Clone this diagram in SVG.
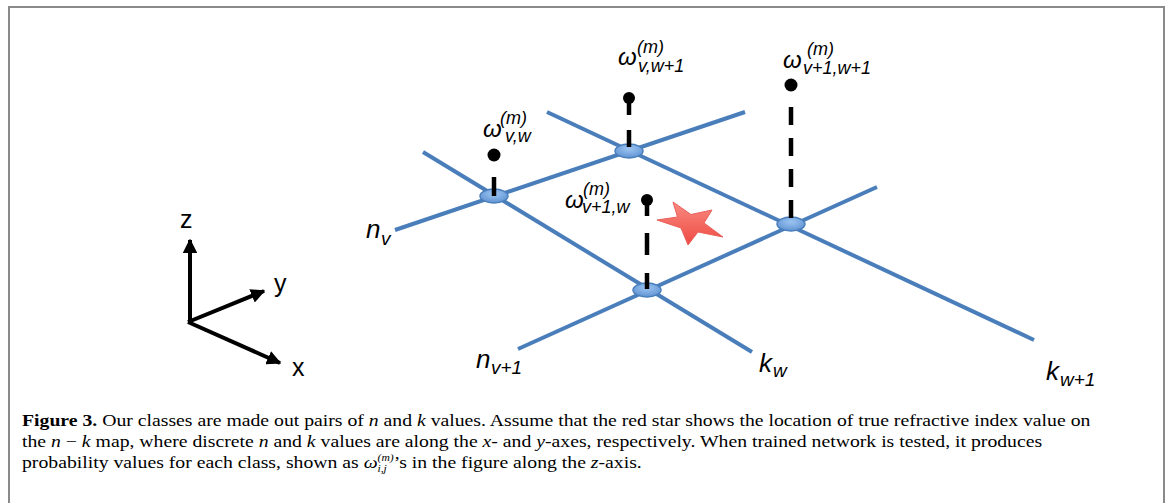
<svg xmlns="http://www.w3.org/2000/svg" width="1171" height="503" viewBox="0 0 1171 503">
<defs>
<radialGradient id="nodeGrad" cx="0.5" cy="0.35" r="0.7">
<stop offset="0" stop-color="#9cc4f2"/>
<stop offset="1" stop-color="#5b8fd0"/>
</radialGradient>
<linearGradient id="starGrad" x1="0" y1="0" x2="0" y2="1">
<stop offset="0" stop-color="#f98a80"/>
<stop offset="1" stop-color="#ee4a42"/>
</linearGradient>
<marker id="axArrow" viewBox="0 0 10 10" refX="9" refY="5" markerWidth="3.6" markerHeight="3.6" orient="auto" markerUnits="strokeWidth">
<path d="M0,0 L10,5 L0,10 z" fill="#000"/>
</marker>
</defs>
<style>
.frame{fill:none;stroke:#8a8a8a;stroke-width:2}
.grid{stroke:#4a7ebb;stroke-width:4;stroke-linecap:butt;fill:none}
.node{fill:url(#nodeGrad);stroke:#4a7ebb;stroke-width:1.5}
.stem{stroke:#000;stroke-width:4.5;fill:none}
.dot{fill:#000}
.axis{stroke:#000;stroke-width:4;fill:none}
.lab{font-family:"Liberation Sans",Arial,sans-serif;font-style:italic;fill:#000}
.om{font-size:24px}
.scr{font-size:18px}
.nk{font-size:26px}
.nks{font-size:19px}
.axl{font-family:"Liberation Sans",Arial,sans-serif;font-size:25px;fill:#000}
.cap{font-family:"Liberation Serif","Times New Roman",serif;font-size:17px;fill:#000}
.it{font-style:italic}
.bf{font-weight:bold}
</style>

<path class="frame" d="M9,504 V7 H1164 V504"/>

<g id="connectors">
<line class="grid" x1="395" y1="230" x2="745" y2="112"/>
<line class="grid" x1="518" y1="349" x2="877" y2="187"/>
<line class="grid" x1="423" y1="152" x2="752" y2="352"/>
<line class="grid" x1="547" y1="112" x2="1034" y2="340"/>
</g>

<g id="star">
<polygon points="657,220 677.5,217 673,202 691,214.5 712,210 704,223 723,237 698,232 688,245 681,228" fill="url(#starGrad)" stroke="#e8605a" stroke-width="1"/>
</g>

<g id="node-v-w">
<ellipse class="node" cx="494" cy="196" rx="14" ry="7"/>
<line class="stem" x1="494" y1="177" x2="494" y2="196"/>
<circle class="dot" cx="494" cy="155" r="6.5"/>
<text class="lab" x="483" y="137"><tspan class="om">ω</tspan><tspan class="scr" x="500" y="124">(m)</tspan><tspan class="scr" x="505" y="142">v,w</tspan></text>
</g>

<g id="node-v-w1">
<ellipse class="node" cx="629" cy="151" rx="14" ry="7"/>
<line class="stem" x1="629" y1="98" x2="629" y2="151" stroke-dasharray="17 15"/>
<circle class="dot" cx="629" cy="98" r="6"/>
<text class="lab" x="618" y="65"><tspan class="om">ω</tspan><tspan class="scr" x="637" y="53">(m)</tspan><tspan class="scr" x="638" y="72">v,w+1</tspan></text>
</g>

<g id="node-v1-w1">
<ellipse class="node" cx="791" cy="224" rx="14" ry="7"/>
<line class="stem" x1="791" y1="107" x2="791" y2="224" stroke-dasharray="18 13"/>
<circle class="dot" cx="791" cy="85" r="6.5"/>
<text class="lab" x="783" y="68"><tspan class="om">ω</tspan><tspan class="scr" x="807" y="55">(m)</tspan><tspan class="scr" x="803" y="74">v+1,w+1</tspan></text>
</g>

<g id="node-v1-w">
<ellipse class="node" cx="647" cy="290" rx="14" ry="7"/>
<line class="stem" x1="647" y1="200" x2="647" y2="290" stroke-dasharray="16 17 22 18"/>
<circle class="dot" cx="647" cy="200" r="6"/>
<text class="lab" x="565" y="208"><tspan class="om">ω</tspan><tspan class="scr" x="583" y="195">(m)</tspan><tspan class="scr" x="582" y="213">v+1,w</tspan></text>
</g>

<g id="line-labels">
<text class="lab" x="366" y="238"><tspan class="nk">n</tspan><tspan class="nks" x="381" y="245">v</tspan></text>
<text class="lab" x="476" y="368"><tspan class="nk">n</tspan><tspan class="nks" x="491" y="374">v+1</tspan></text>
<text class="lab" x="759" y="372"><tspan class="nk">k</tspan><tspan class="nks" x="773" y="377">w</tspan></text>
<text class="lab" x="1046" y="380"><tspan class="nk">k</tspan><tspan class="nks" x="1060" y="386">w+1</tspan></text>
</g>

<g id="axes">
<line class="axis" x1="190" y1="322" x2="190" y2="240" marker-end="url(#axArrow)"/>
<line class="axis" x1="188" y1="322" x2="264" y2="291" marker-end="url(#axArrow)"/>
<line class="axis" x1="188" y1="322" x2="280" y2="363" marker-end="url(#axArrow)"/>
<text class="axl" x="180" y="228">z</text>
<text class="axl" x="274" y="292">y</text>
<text class="axl" x="292" y="376">x</text>
</g>

<g id="caption" transform="translate(22,0) scale(1.16,1)">
<text class="cap" x="0" y="426"><tspan class="bf">Figure 3.</tspan> Our classes are made out pairs of <tspan class="it">n</tspan> and <tspan class="it">k</tspan> values. Assume that the red star shows the location of true refractive index value on</text>
<text class="cap" x="0" y="447">the <tspan class="it">n</tspan> − <tspan class="it">k</tspan> map, where discrete <tspan class="it">n</tspan> and <tspan class="it">k</tspan> values are along the <tspan class="it">x</tspan>- and <tspan class="it">y</tspan>-axes, respectively. When trained network is tested, it produces</text>
<text class="cap" x="0" y="468">probability values for each class, shown as <tspan class="it">ω</tspan><tspan class="it" font-size="10" dy="-7">(m)</tspan><tspan class="it" font-size="10" dx="-14" dy="11">i,j</tspan><tspan dx="6" dy="-4">’s in the figure along the </tspan><tspan class="it">z</tspan>-axis.</text>
</g>
</svg>
